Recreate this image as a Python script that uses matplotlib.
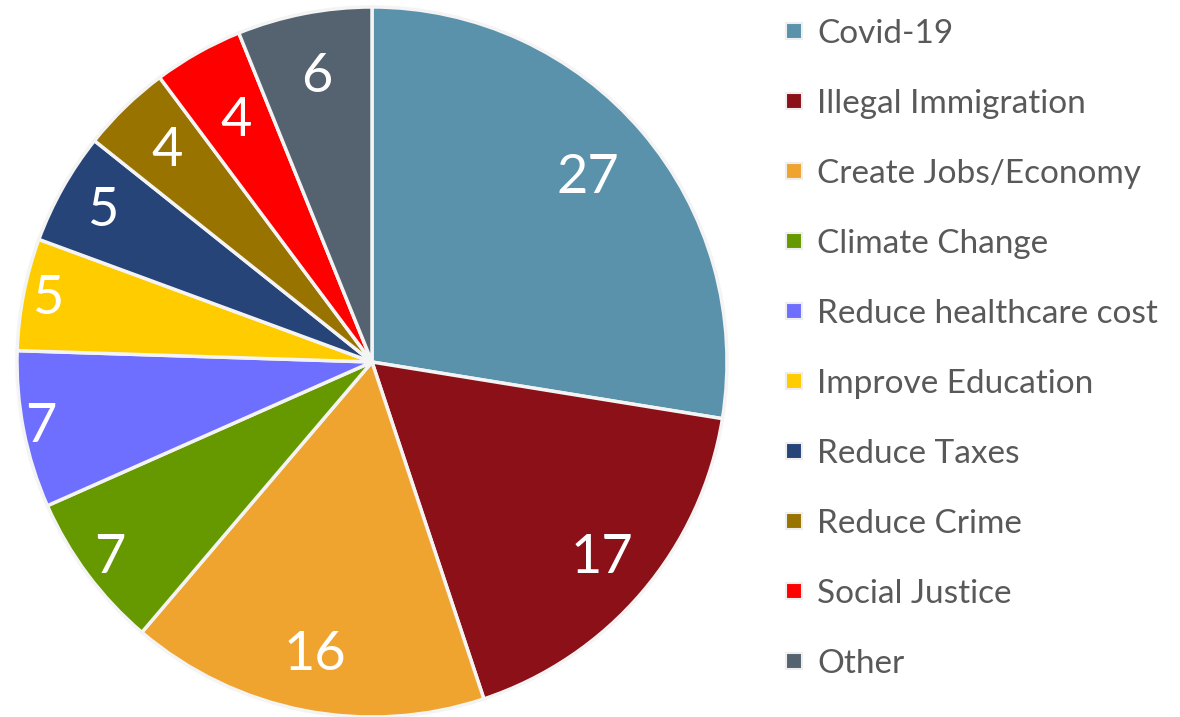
import numpy as np
import matplotlib.pyplot as plt
from matplotlib.lines import Line2D

categorias = ['Covid-19', 'Illegal Immigration', 'Create Jobs/Economy', 'Climate Change',
              'Reduce healthcare cost', 'Improve Education', 'Reduce Taxes',
              'Reduce Crime', 'Social Justice', 'Other']
valores = [27, 17, 16, 7, 7, 5, 5, 4, 4, 6]
cores = ['#5B92AB', '#8B1018', '#EFA430', '#669900', '#6F6FFF',
         '#FFCC00', '#264478', '#997300', '#FF0000', '#556270']

# distancia de cada rotulo ao centro (fracao do raio)
dist_rotulos = [0.80, 0.85, 0.84, 0.92, 0.95, 0.93, 0.87, 0.83, 0.78, 0.82]

plt.rcParams['font.family'] = ['Lato', 'DejaVu Sans']

fig = plt.figure(figsize=(11.8, 7.17), dpi=100)
ax = fig.add_axes([17 / 1180, 0.0, 710 / 1180, 710 / 717])

fatias, textos = ax.pie(valores, colors=cores, startangle=90, counterclock=False,
                        labels=[str(v) for v in valores], labeldistance=0.8,
                        wedgeprops=dict(edgecolor='#f4f4f4', linewidth=2.5),
                        textprops=dict(color='white', fontsize=39))

for fatia, texto, d in zip(fatias, textos, dist_rotulos):
    ang = np.deg2rad((fatia.theta1 + fatia.theta2) / 2)
    texto.set_position((d * np.cos(ang), d * np.sin(ang)))
    texto.set_ha('center')
    texto.set_va('center')

ax.set_xlim(-1.0, 1.0)
ax.set_ylim(-1.0, 1.0)
ax.set_aspect('equal')
ax.axis('off')

# Legenda a direita
handles = [Line2D([], [], marker='s', ls='', markersize=11, markerfacecolor=c,
                  markeredgecolor='#eeeeee', markeredgewidth=1.5) for c in cores]
leg = fig.legend(handles, categorias, loc='upper left', bbox_to_anchor=(784 / 1180, 1 - 19 / 717),
                 frameon=False, fontsize=24, labelcolor='#595959', handlelength=0.6,
                 handletextpad=0.4, labelspacing=1.2, borderaxespad=0, borderpad=0)

fig.savefig('out.png', dpi=100)
